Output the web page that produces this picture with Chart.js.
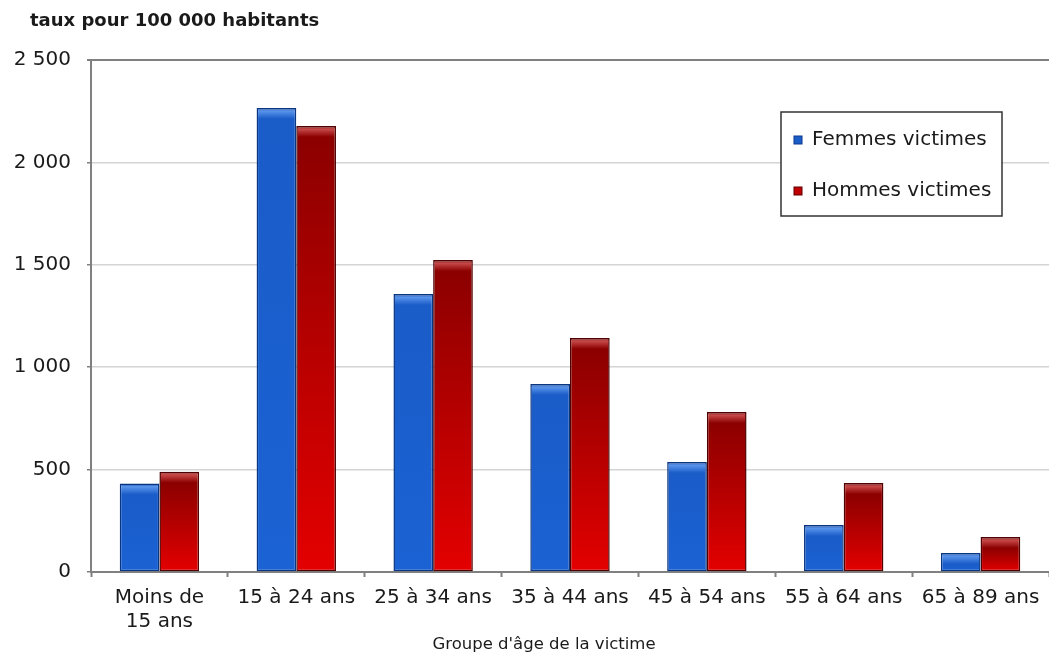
<!DOCTYPE html>
<html lang="fr">
<head>
<meta charset="utf-8">
<title>Victimes par groupe d'âge</title>
<script src="https://cdn.jsdelivr.net/npm/chart.js@4.4.1/dist/chart.umd.min.js"></script>
<style>
  html, body { margin: 0; padding: 0; background: #fff; }
  #wrap { position: relative; width: 1049px; height: 658px; }
  canvas { display: block; }
</style>
</head>
<body>
<div id="wrap"><canvas id="chart" width="1049" height="658"></canvas></div>
<script>
// categories (x axis)
const ageGroups = [
  ["Moins de", "15 ans"],
  "15 à 24 ans",
  "25 à 34 ans",
  "35 à 44 ans",
  "45 à 54 ans",
  "55 à 64 ans",
  "65 à 89 ans",
];

// rates per 100 000
const femmes = [432, 2266, 1357, 918, 537, 229, 93];
const hommes = [490, 2178, 1523, 1143, 781, 434, 171];

const seriesNames = ["Femmes victimes", "Hommes victimes"];

// y axis
const yMin = 0;
const yMax = 2500;
const yStep = 500;

const yTitle = "taux pour 100 000 habitants";
const xTitle = "Groupe d'âge de la victime";

const fontFamily = "'DejaVu Sans', Verdana, sans-serif";
Chart.defaults.font.family = fontFamily;
Chart.defaults.color = "#1a1a1a";

// thousands with a space, like "2 500"
const frNumber = (v) => String(v).replace(/\B(?=(\d{3})+(?!\d))/g, " ");

// bevelled bar : light strip at the top then the body gradient
const barFill = (edge, light, main, bottom) => (ctx) => {
  const chart = ctx.chart;
  if (!chart.chartArea || ctx.type !== "data") return main;
  const y = chart.scales.y;
  const yTop = y.getPixelForValue(ctx.raw);
  const yBase = y.getPixelForValue(0);
  const h = Math.max(yBase - yTop, 1);
  const f = (px) => Math.min(px / h, 1);
  const g = chart.ctx.createLinearGradient(0, yTop, 0, yBase);
  g.addColorStop(0, edge);
  g.addColorStop(f(3), light);
  g.addColorStop(f(11), main);
  g.addColorStop(1, bottom);
  return g;
};

const legendColors = ["#1a5cc8", "#c00000"];

// axis titles, drawn flat (y one sits above the axis like the original)
const axisTitles = {
  id: "axisTitles",
  afterDraw(chart) {
    const c = chart.ctx;
    c.save();
    c.fillStyle = "#1a1a1a";
    c.textBaseline = "middle";
    c.font = "bold 18px " + fontFamily;
    c.textAlign = "left";
    c.fillText(yTitle, 30, 21);
    c.font = "16.5px " + fontFamily;
    c.textAlign = "center";
    c.fillText(xTitle, 544, 645);
    c.restore();
  },
};

// boxed legend in the upper right of the plot
const boxLegend = {
  id: "boxLegend",
  afterDraw(chart) {
    const c = chart.ctx;
    const x = 781, y = 112, w = 221, h = 104;
    c.save();
    c.fillStyle = "#fff";
    c.fillRect(x, y, w, h);
    c.strokeStyle = "#333";
    c.lineWidth = 1.5;
    c.strokeRect(x, y, w, h);
    c.font = "20px " + fontFamily;
    c.textBaseline = "middle";
    chart.data.datasets.forEach((ds, i) => {
      const cy = y + 28 + i * 51;
      c.fillStyle = legendColors[i];
      c.fillRect(x + 13, cy - 4, 8, 8);
      c.strokeStyle = i === 0 ? "#0b3a8c" : "#600000";
      c.lineWidth = 1;
      c.strokeRect(x + 13, cy - 4, 8, 8);
      c.fillStyle = "#1a1a1a";
      c.fillText(ds.label, x + 31, cy);
    });
    c.restore();
  },
};

new Chart(document.getElementById("chart"), {
  type: "bar",
  plugins: [axisTitles, boxLegend],
  data: {
    labels: ageGroups,
    datasets: [
      {
        label: seriesNames[0],
        data: femmes,
        backgroundColor: barFill("#0c3f9c", "#5a95ec", "#1a5cc8", "#1b62d4"),
        borderColor: "#0a3580",
        borderWidth: 1.5,
        borderSkipped: false,
      },
      {
        label: seriesNames[1],
        data: hommes,
        backgroundColor: barFill("#5c0000", "#c84a4a", "#8c0000", "#e40000"),
        borderColor: "#500000",
        borderWidth: 1.5,
        borderSkipped: false,
      },
    ],
  },
  options: {
    responsive: false,
    animation: false,
    devicePixelRatio: 1,
    layout: { padding: { top: 60, right: 0, bottom: 0, left: 0 } },
    datasets: {
      bar: { categoryPercentage: 0.58, barPercentage: 1 },
    },
    plugins: {
      legend: { display: false },
      tooltip: { enabled: false },
      title: { display: false },
    },
    scales: {
      x: {
        afterFit: (s) => { s.height = 86; },
        grid: {
          offset: true,
          drawOnChartArea: false,
          tickLength: 5,
          color: "#808080",
          tickWidth: 2,
        },
        border: { color: "#808080", width: 2 },
        ticks: {
          font: { size: 20 },
          padding: 9,
          maxRotation: 0,
          autoSkip: false,
        },
      },
      y: {
        min: yMin,
        max: yMax,
        afterFit: (s) => { s.width = 91; },
        grid: {
          color: (ctx) => (ctx.tick && ctx.tick.value === yMax ? "#808080" : "#d4d4d4"),
          lineWidth: (ctx) => (ctx.tick && ctx.tick.value === yMax ? 2 : 1.5),
          tickLength: 4,
          tickColor: "#808080",
        },
        border: { color: "#808080", width: 2 },
        ticks: {
          stepSize: yStep,
          font: { size: 20 },
          padding: 16,
          callback: (v) => frNumber(v),
        },
      },
    },
  },
});
</script>
</body>
</html>
